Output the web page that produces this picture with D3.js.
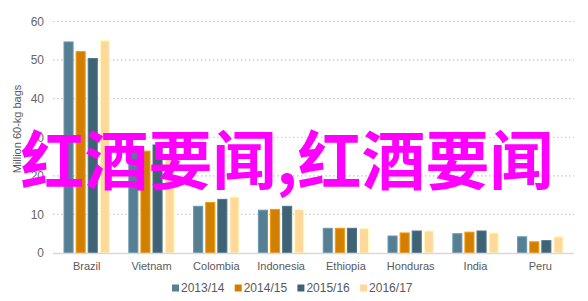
<!DOCTYPE html>
<html><head><meta charset="utf-8">
<script src="https://cdn.jsdelivr.net/npm/d3@7"></script>
<style>body{margin:0;background:#fff}svg{display:block}</style>
</head><body>
<script>
const categories = ["Brazil","Vietnam","Colombia","Indonesia","Ethiopia","Honduras","India","Peru"];
const seriesNames = ["2013/14","2014/15","2015/16","2016/17"];
const s2013 = [54.7, 27.7, 12.1, 11.1, 6.4, 4.4, 5.0, 4.2];
const s2014 = [52.2, 26.4, 13.1, 11.3, 6.4, 5.2, 5.4, 2.9];
const s2015 = [50.4, 28.0, 13.9, 12.1, 6.4, 5.7, 5.7, 3.2];
const s2016 = [55.0, 25.5, 14.5, 11.3, 6.4, 5.7, 5.2, 4.2];
const yTicks = [0,10,20,30,40,50,60];
const colors = ["#577f93","#d17f00","#3f6275","#ffd89c"];
const watermark = "红酒要闻,红酒要闻";

const W=588,H=301;
const svg=d3.select("body").append("svg").attr("width",W).attr("height",H);
const values=[s2013,s2014,s2015,s2016];

const y=d3.scaleLinear().domain([0,60]).range([253,21.5]);
const x0=d3.scaleBand().domain(categories).range([53,574]).paddingInner(0.3).paddingOuter(0.17);
const x1=d3.scaleBand().domain(seriesNames).range([0,x0.bandwidth()]).paddingInner(0.25);

// grid
svg.append("g").selectAll("line").data(yTicks.filter(t=>t>0)).join("line")
  .attr("x1",53).attr("x2",574).attr("y1",d=>y(d)).attr("y2",d=>y(d))
  .attr("stroke","#c8c8c8").attr("stroke-width",1.2).attr("stroke-dasharray","1.5,2.5");

// y axis labels
const yAxis=d3.axisLeft(y).tickValues(yTicks).tickSize(0).tickPadding(0);
const gy=svg.append("g").attr("transform","translate(44,0)").call(yAxis);
gy.select(".domain").remove();
gy.selectAll("text").attr("fill","#666").attr("font-family","Liberation Sans, Arial, sans-serif").attr("font-size","12px");

// bars
const groups=svg.append("g").selectAll("g").data(categories).join("g")
  .attr("transform",d=>`translate(${x0(d)},0)`);
groups.selectAll("rect").data((c,i)=>seriesNames.map((s,j)=>({s,j,v:values[j][i]}))).join("rect")
  .attr("x",d=>x1(d.s)).attr("width",x1.bandwidth())
  .attr("y",d=>y(d.v)).attr("height",d=>y(0)-y(d.v))
  .attr("fill",d=>colors[d.j])
  .attr("stroke",d=>d3.color(colors[d.j]).brighter(0.5)).attr("stroke-width",1);

// baseline
svg.append("line").attr("x1",53).attr("x2",574).attr("y1",y(0)+0.5).attr("y2",y(0)+0.5)
  .attr("stroke","#d9d9d9").attr("stroke-width",1.5);

// x axis labels
const xAxis=d3.axisBottom(x0).tickSize(0).tickPadding(0);
const gx=svg.append("g").attr("transform","translate(0,262)").call(xAxis);
gx.select(".domain").remove();
gx.selectAll("text").attr("fill","#595959").attr("font-family","Liberation Sans, Arial, sans-serif").attr("font-size","11px");

// y title
svg.append("text").attr("transform","translate(21,129) rotate(-90)").attr("text-anchor","middle")
  .attr("fill","#595959").attr("font-family","Liberation Sans, Arial, sans-serif").attr("font-size","11px")
  .text("Million 60-kg bags");

// legend
const lg=svg.append("g").selectAll("g").data(seriesNames).join("g")
  .attr("transform",(d,i)=>`translate(${172+i*62.7},0)`);
lg.append("rect").attr("x",0).attr("y",284.5).attr("width",7).attr("height",7).attr("fill",(d,i)=>colors[i]);
lg.append("text").attr("x",9).attr("y",291.5).attr("fill","#595959")
  .attr("font-family","Liberation Sans, Arial, sans-serif").attr("font-size","12px").text(d=>d);

// watermark
svg.append("text").attr("x",287).attr("y",184).attr("text-anchor","middle")
  .attr("fill","#ff00ff").attr("font-family","Noto Sans CJK SC").attr("font-weight","bold")
  .attr("font-size","64px").text(watermark);
</script>
</body></html>
